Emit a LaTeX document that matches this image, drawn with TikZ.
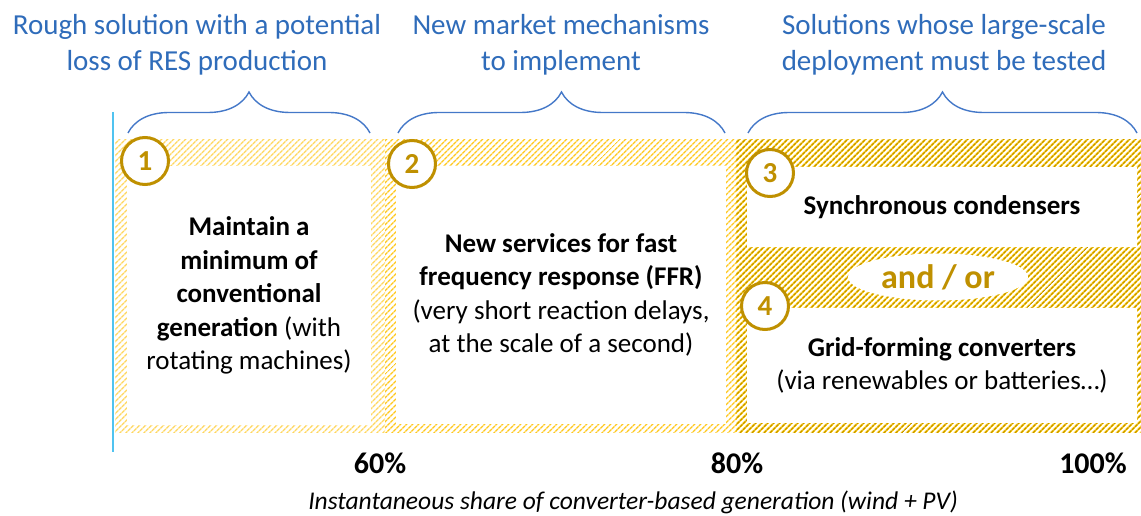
\documentclass[tikz,border=0pt]{standalone}
\usepackage{fontspec}
\setmainfont{Carlito}
\usepackage{tikz}
\usetikzlibrary{
  arrows.meta, positioning, shapes.geometric,
  decorations.pathreplacing, patterns.meta
}
\usepackage{xcolor}
\definecolor{titleblue}{RGB}{47, 108, 186}
\definecolor{braceblue}{RGB}{68, 120, 200}
\definecolor{axisblue}{RGB}{80, 195, 240}
\definecolor{solgold}{RGB}{191, 144, 0}
\definecolor{hatchpale}{RGB}{255, 215, 95}
\definecolor{hatchmid}{RGB}{255, 200, 30}
\definecolor{hatchdark}{RGB}{190, 145, 0}
\definecolor{hatchyellow}{RGB}{255, 205, 20}

\begin{document}
\begin{tikzpicture}[
    x=1pt, y=-1pt,
    title/.style={font=\fontsize{29}{36}\selectfont, text=titleblue, align=center},
    span/.style={decorate, decoration={brace, amplitude=41pt},
                 draw=braceblue, line width=1.4pt},
    hatch/.style={pattern={Lines[angle=45, distance=4pt, line width=1.4pt]}},
    solbox/.style={fill=white, align=center, inner sep=0pt,
                   font=\fontsize{27}{33.5}\selectfont},
    num/.style={circle, draw=solgold, line width=3pt, fill=white, text=solgold,
                minimum size=47pt, inner sep=0pt,
                font=\bfseries\fontsize{29}{30}\selectfont},
    pct/.style={font=\bfseries\fontsize{30}{32}\selectfont},
  ]
    \useasboundingbox (0,0) rectangle (1141,516);

    % Hatched zones
    \fill[hatch, pattern color=hatchpale] (115,140) rectangle (385,432);
    \fill[hatch, pattern color=hatchmid] (385,140) rectangle (736,432);
    \fill[pattern={Lines[angle=45, distance=4pt, line width=2.4pt]},
          pattern color=hatchyellow] (736,140) rectangle (1141,432);
    \fill[pattern={Lines[angle=45, distance=4pt, line width=1pt]},
          pattern color=hatchdark] (736,140) rectangle (1141,432);

    % Axis
    \coordinate (axtop) at (113,112);
    \coordinate (axbot) at (113,452);
    \draw[axisblue, line width=2pt] (axtop) -- (axbot);

    % Titles
    \node[title] (t1) at (197,45) {Rough solution with a potential\\loss of RES production};
    \node[title] (t2) at (561,45) {New market mechanisms\\to implement};
    \node[title] (t3) at (944,45) {Solutions whose large-scale\\deployment must be tested};

    % Boxes
    \node[solbox, minimum width=244pt, minimum height=259pt] (mingen) at (249,295.5)
      {\textbf{Maintain a}\\\textbf{minimum of}\\\textbf{conventional}\\
       \textbf{generation} (with\\rotating machines)};
    \node[solbox, minimum width=330pt, minimum height=257pt] (ffr) at (561,295)
      {\textbf{New services for fast}\\\textbf{frequency response (FFR)}\\
       (very short reaction delays,\\at the scale of a second)};
    \node[solbox, minimum width=390pt, minimum height=80pt] (sync) at (942,207)
      {\textbf{Synchronous condensers}};
    \node[solbox, minimum width=390pt, minimum height=115pt] (gfc) at (942,365.5)
      {\textbf{Grid-forming converters}\\(via renewables or batteries…)};

    % and / or
    \node[ellipse, fill=white, minimum width=180pt, minimum height=47pt, inner sep=0pt,
          text=solgold, font=\bfseries\fontsize{34}{36}\selectfont]
      (andor) at (938,277) {and / or};

    % Numbers
    \node[num] (n1) at (145,161) {1};
    \node[num] (n2) at (412,164) {2};
    \node[num] (n3) at (770,173) {3};
    \node[num] (n4) at (765,306) {4};

    % Braces
    \coordinate (b1l) at (128,133);
    \coordinate (b1r) at (370,133);
    \coordinate (b2l) at (398,133);
    \coordinate (b2r) at (725,133);
    \coordinate (b3l) at (748,133);
    \coordinate (b3r) at (1137,133);
    \draw[span] (b1l) -- (b1r);
    \draw[span] (b2l) -- (b2r);
    \draw[span] (b3l) -- (b3r);

    % Percentages
    \node[pct] (p60) at (380,463) {60\%};
    \node[pct] (p80) at (737,463) {80\%};
    \node[pct] (p100) at (1093,463) {100\%};

    % Axis label
    \node[font=\itshape\fontsize{25.5}{28}\selectfont] (axlabel) at (633,502)
      {Instantaneous share of converter-based generation (wind + PV)};
  \end{tikzpicture}
\end{document}
